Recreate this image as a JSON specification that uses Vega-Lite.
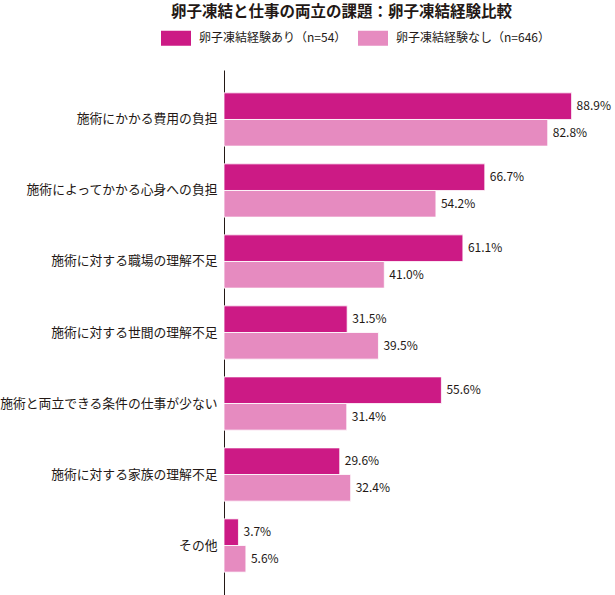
{
  "$schema": "https://vega.github.io/schema/vega-lite/v6.json",
  "width": 391,
  "height": 525,
  "autosize": {"type": "none"},
  "padding": {"left": 224, "top": 70, "right": 0, "bottom": 0},
  "background": "white",
  "config": {"font": "Noto Sans CJK JP", "view": {"stroke": null}},
  "title": {
    "text": "卵子凍結と仕事の両立の課題：卵子凍結経験比較",
    "fontSize": 15.5,
    "fontWeight": "bold",
    "color": "#231815",
    "anchor": "middle",
    "frame": "group",
    "dx": -78,
    "offset": 3
  },
  "data": {
    "values": [
      {"item": "施術にかかる費用の負担", "group": "卵子凍結経験あり（n=54）", "pct": 88.9},
      {"item": "施術にかかる費用の負担", "group": "卵子凍結経験なし（n=646）", "pct": 82.8},
      {"item": "施術によってかかる心身への負担", "group": "卵子凍結経験あり（n=54）", "pct": 66.7},
      {"item": "施術によってかかる心身への負担", "group": "卵子凍結経験なし（n=646）", "pct": 54.2},
      {"item": "施術に対する職場の理解不足", "group": "卵子凍結経験あり（n=54）", "pct": 61.1},
      {"item": "施術に対する職場の理解不足", "group": "卵子凍結経験なし（n=646）", "pct": 41.0},
      {"item": "施術に対する世間の理解不足", "group": "卵子凍結経験あり（n=54）", "pct": 31.5},
      {"item": "施術に対する世間の理解不足", "group": "卵子凍結経験なし（n=646）", "pct": 39.5},
      {"item": "施術と両立できる条件の仕事が少ない", "group": "卵子凍結経験あり（n=54）", "pct": 55.6},
      {"item": "施術と両立できる条件の仕事が少ない", "group": "卵子凍結経験なし（n=646）", "pct": 31.4},
      {"item": "施術に対する家族の理解不足", "group": "卵子凍結経験あり（n=54）", "pct": 29.6},
      {"item": "施術に対する家族の理解不足", "group": "卵子凍結経験なし（n=646）", "pct": 32.4},
      {"item": "その他", "group": "卵子凍結経験あり（n=54）", "pct": 3.7},
      {"item": "その他", "group": "卵子凍結経験なし（n=646）", "pct": 5.6}
    ]
  },
  "transform": [{"calculate": "format(datum.pct, '.1f') + '%'", "as": "label"}],
  "encoding": {
    "y": {
      "field": "item",
      "type": "nominal",
      "sort": ["施術にかかる費用の負担", "施術によってかかる心身への負担", "施術に対する職場の理解不足", "施術に対する世間の理解不足", "施術と両立できる条件の仕事が少ない", "施術に対する家族の理解不足", "その他"],
      "scale": {"paddingInner": 0.25, "paddingOuter": 0.322},
      "axis": {
        "title": null,
        "ticks": false,
        "labelPadding": 7,
        "labelFontSize": 12.8,
        "labelColor": "#231815",
        "domainColor": "#231815",
        "domainWidth": 1,
        "labelLimit": 300
      }
    },
    "yOffset": {
      "field": "group",
      "sort": ["卵子凍結経験あり（n=54）", "卵子凍結経験なし（n=646）"]
    },
    "x": {
      "field": "pct",
      "type": "quantitative",
      "scale": {"domain": [0, 100]},
      "axis": null
    }
  },
  "layer": [
    {
      "mark": {"type": "bar", "stroke": "white", "strokeWidth": 0.8},
      "encoding": {
        "color": {
          "field": "group",
          "type": "nominal",
          "sort": ["卵子凍結経験あり（n=54）", "卵子凍結経験なし（n=646）"],
          "scale": {"range": ["#CC1A85", "#E68BC0"]},
          "legend": {
            "orient": "none",
            "legendX": -63,
            "legendY": -47,
            "direction": "horizontal",
            "title": null,
            "symbolType": "M-1,-0.5h2v1h-2z",
            "symbolSize": 900,
            "symbolStrokeWidth": 0,
            "labelFontSize": 12,
            "labelColor": "#231815",
            "labelOffset": 8,
            "columnPadding": 11
          }
        }
      }
    },
    {
      "mark": {"type": "text", "align": "left", "dx": 5, "fontSize": 12, "color": "#231815"},
      "encoding": {"text": {"field": "label"}}
    }
  ]
}
